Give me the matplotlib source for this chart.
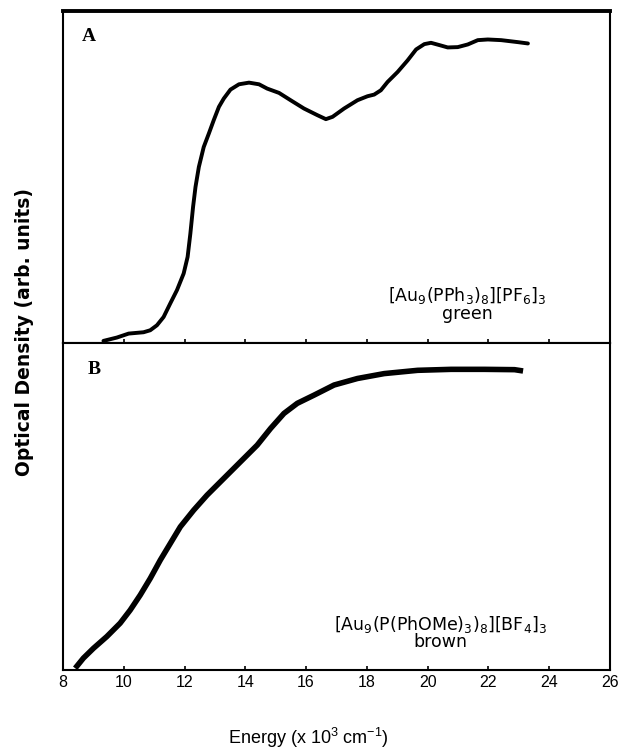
import matplotlib.pyplot as plt

plt.rcParams['font.family'] = ['Liberation Sans', 'DejaVu Sans']
plt.rcParams['mathtext.fontset'] = 'custom'
plt.rcParams['mathtext.rm'] = 'DejaVu Sans'
plt.rcParams['mathtext.default'] = 'regular'

# panel A: [Au9(PPh3)8][PF6]3, green
energiaA = [9.33, 9.77, 10.16, 10.65, 10.87, 11.09, 11.31, 11.53, 11.75, 11.97,
            12.10, 12.19, 12.28, 12.36, 12.47, 12.63, 12.80, 12.96, 13.13, 13.29,
            13.51, 13.79, 14.12, 14.45, 14.72, 15.11, 15.49, 15.93, 16.37, 16.65,
            16.87, 17.25, 17.69, 18.02, 18.24, 18.46, 18.68, 19.01, 19.34, 19.62,
            19.89, 20.11, 20.39, 20.66, 20.99, 21.32, 21.65, 21.98, 22.42, 22.97,
            23.30]
densidadeA = [0.007, 0.017, 0.029, 0.033, 0.039, 0.054, 0.079, 0.120, 0.160, 0.210,
              0.260, 0.330, 0.411, 0.471, 0.531, 0.591, 0.632, 0.672, 0.712, 0.737,
              0.764, 0.780, 0.785, 0.780, 0.767, 0.754, 0.732, 0.707, 0.687, 0.675,
              0.682, 0.707, 0.732, 0.744, 0.749, 0.762, 0.787, 0.817, 0.852, 0.885,
              0.901, 0.905, 0.898, 0.891, 0.892, 0.900, 0.913, 0.915, 0.913, 0.907,
              0.903]

# panel B: [Au9(P(PhOMe)3)8][BF4]3, brown
energiaB = [8.40, 8.67, 9.00, 9.44, 9.88, 10.21, 10.54, 10.87, 11.20, 11.53,
            11.86, 12.30, 12.74, 13.29, 13.84, 14.39, 14.83, 15.27, 15.71, 16.26,
            16.92, 17.69, 18.57, 19.67, 20.77, 21.87, 22.86, 23.14]
densidadeB = [0.005, 0.036, 0.066, 0.102, 0.143, 0.183, 0.229, 0.280, 0.336, 0.387,
              0.438, 0.489, 0.535, 0.586, 0.637, 0.688, 0.739, 0.785, 0.816, 0.841,
              0.872, 0.892, 0.907, 0.917, 0.920, 0.920, 0.919, 0.915]

ticksX = [8, 10, 12, 14, 16, 18, 20, 22, 24, 26]

fig = plt.figure(figsize=(6.18, 7.51), dpi=100)
axA = fig.add_axes([0.102, 0.543, 0.885, 0.442])
axB = fig.add_axes([0.102, 0.108, 0.885, 0.435])

for ax in (axA, axB):
    ax.set_xlim(8, 26)
    ax.set_ylim(0, 1)
    ax.set_yticks([])
    ax.set_xticks(ticksX)
    ax.tick_params(axis='x', direction='in', length=3, width=1.2, labelsize=11.5)
    for s in ax.spines.values():
        s.set_linewidth(1.5)

axA.spines['top'].set_linewidth(2.8)
axA.tick_params(axis='x', labelbottom=False)

axA.plot(energiaA, densidadeA, color='black', lw=2.8, solid_capstyle='round',
         solid_joinstyle='round')
axB.plot(energiaB, densidadeB, color='black', lw=4.0, solid_capstyle='butt',
         solid_joinstyle='round')

axA.text(0.035, 0.91, 'A', transform=axA.transAxes, fontsize=14, fontweight='bold',
         family='Liberation Serif')
axB.text(0.045, 0.905, 'B', transform=axB.transAxes, fontsize=14, fontweight='bold',
         family='Liberation Serif')

axA.text(0.74, 0.118, '[Au$_9$(PPh$_3$)$_8$][PF$_6$]$_3$\ngreen', transform=axA.transAxes,
         fontsize=12.5, ha='center', va='center', linespacing=0.9, family='DejaVu Sans')
axB.text(0.69, 0.115, '[Au$_9$(P(PhOMe)$_3$)$_8$][BF$_4$]$_3$\nbrown', transform=axB.transAxes,
         fontsize=12.5, ha='center', va='center', linespacing=0.9, family='DejaVu Sans')

fig.text(0.04, 1 - 332 / 751, 'Optical Density (arb. units)', rotation=90, fontsize=13.5,
         fontweight='bold', ha='center', va='center', family='DejaVu Sans')
fig.text(308 / 618, 1 - 738 / 751, 'Energy (x 10$^3$ cm$^{-1}$)', fontsize=13,
         ha='center', va='center')

plt.savefig('out.png', dpi=100)
